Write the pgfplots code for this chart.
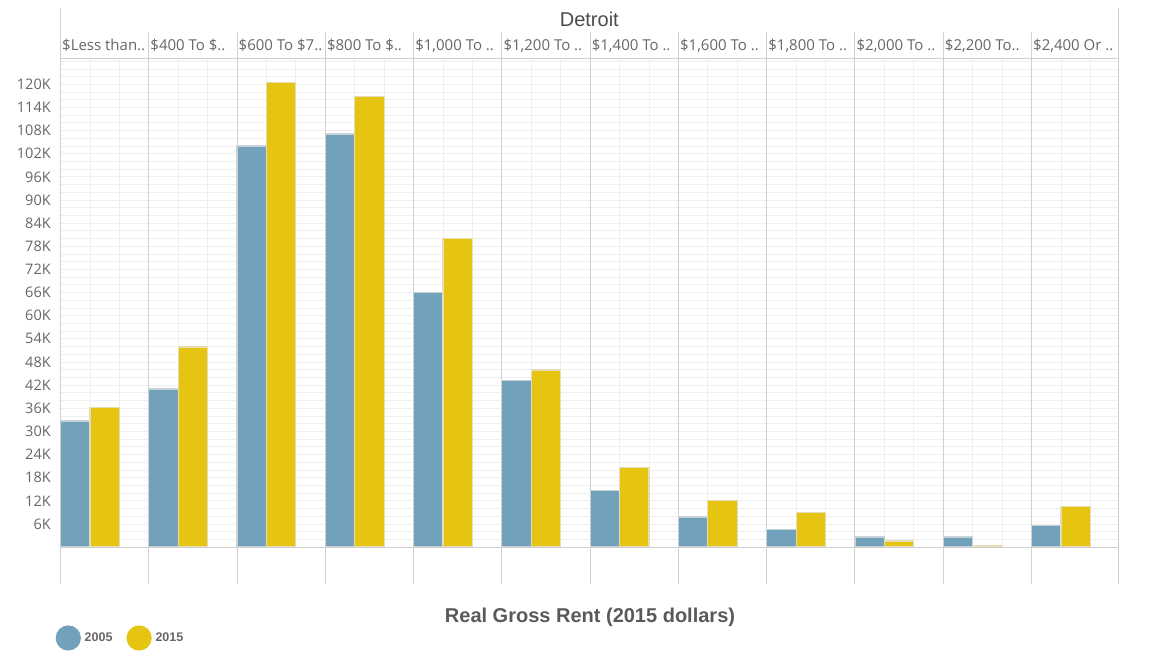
\documentclass[border=0pt]{standalone}
\usepackage{pgfplots}
\pgfplotsset{compat=1.18}
\usepackage{fontspec}
\setmainfont{Liberation Sans}
\newfontfamily\tickfont{Open Sans}

\definecolor{c2005}{HTML}{72A2BB}
\definecolor{c2015}{HTML}{E6C412}
\definecolor{e2005}{HTML}{C6D2D8}
\definecolor{e2015}{HTML}{E4DDB8}
\definecolor{sep}{HTML}{D0D0D0}
\definecolor{gridc}{HTML}{EFEFEF}
\definecolor{txt}{HTML}{666666}

% values in thousands of renter households
\pgfplotstableread{
x     y
0.1667  32.7
1.1667  41.0
2.1667  104.0
3.1667  107.1
4.1667  66.1
5.1667  43.2
6.1667  14.6
7.1667  7.8
8.1667  4.5
9.1667  2.6
10.1667 2.6
11.1667 5.7
}\ylowdata
\pgfplotstableread{
x     y
0.5   36.2
1.5   51.9
2.5   120.5
3.5   116.9
4.5   80.0
5.5   45.9
6.5   20.7
7.5   12.0
8.5   9.0
9.5   1.6
10.5  0.35
11.5  10.6
}\yhighdata

\begin{document}
\begin{tikzpicture}
\useasboundingbox (0,0) rectangle (1149pt,667pt);
\begin{axis}[
    at={(60.5pt,83pt)}, anchor=south west,
    width=1057.5pt, height=525.5pt, scale only axis,
    axis line style={draw=none},
    xmin=0, xmax=11.98,
    ymin=-9.57, ymax=126.7,
    xtick={0,...,12},
    xticklabels={\$Less than..,\$400 To \$..,\$600 To \$7..,\$800 To \$..,\$1{,}000 To ..,\$1{,}200 To ..,\$1{,}400 To ..,\$1{,}600 To ..,\$1{,}800 To ..,\$2{,}000 To ..,\$2{,}200 To..,\$2{,}400 Or ..,},
    xticklabel pos=upper,
    xticklabel style={anchor=base west, yshift=7.8pt, inner sep=1.5pt, font=\tickfont\fontsize{15}{17}\selectfont, text=txt},
    minor x tick num=2,
    xminorgrids,
    ytick={6,12,...,120},
    yticklabel={\pgfmathprintnumber[assume math mode=true]{\tick}K},
    yticklabel style={anchor=east, inner sep=0pt, xshift=-9.6pt, font=\tickfont\fontsize{14.5}{16}\selectfont, text=txt},
    minor ytick={0,2,...,126},
    ymajorgrids, yminorgrids,
    major tick length=0pt, minor tick length=0pt,
    major grid style={gridc, line width=0.8pt},
    minor grid style={gridc, line width=0.8pt},
    legend columns=2,
    legend style={at={(rel axis cs:0,0)}, anchor=west, xshift=-5pt, yshift=-54pt,
        draw=none, fill=none, inner sep=0pt,
        font=\bfseries\fontsize{12.5}{14}\selectfont, text=txt,
        /tikz/every odd column/.style={column sep=1.8pt},
        /tikz/every even column/.style={column sep=12pt}},
]
\fill[white] (axis cs:0,-9.57) rectangle (axis cs:12,0);
\addplot[ybar, bar width=0.3333, bar shift=0pt, fill=c2005, draw=e2005, line width=1.2pt,
    legend image code/.code={\fill[c2005] (12pt,0pt) circle (12pt);}]
    table[x=x, y=y] {\ylowdata};
\addlegendentry{2005}
\addplot[ybar, bar width=0.3333, bar shift=0pt, fill=c2015, draw=e2015, line width=1.2pt,
    legend image code/.code={\fill[c2015] (12pt,0pt) circle (12pt);}]
    table[x=x, y=y] {\yhighdata};
\addlegendentry{2015}
\draw[sep, line width=1pt] (axis cs:0,0) -- (axis cs:11.98,0);
\end{axis}
% pane frame, column separators and header rule
\draw[sep, line width=1pt] (60.5pt,83pt) -- (60.5pt,659pt);
\draw[sep, line width=1pt] (1118pt,83pt) -- (1118pt,659pt);
\foreach \i in {1,...,11}
    \draw[sep, line width=1pt] (60.5pt+\i*88.27pt,83pt) -- (60.5pt+\i*88.27pt,635pt);
\draw[sep, line width=1pt] (60.5pt,608.5pt) -- (1118pt,608.5pt);
\node[anchor=base, inner sep=0pt, text=black!70, font=\fontsize{20}{22}\selectfont] at (589.3pt,640.3pt) {Detroit};
\node[anchor=base, inner sep=0pt, text=black!65, font=\bfseries\fontsize{20}{22}\selectfont] at (590pt,44.7pt) {Real Gross Rent (2015 dollars)};
\end{tikzpicture}
\end{document}
